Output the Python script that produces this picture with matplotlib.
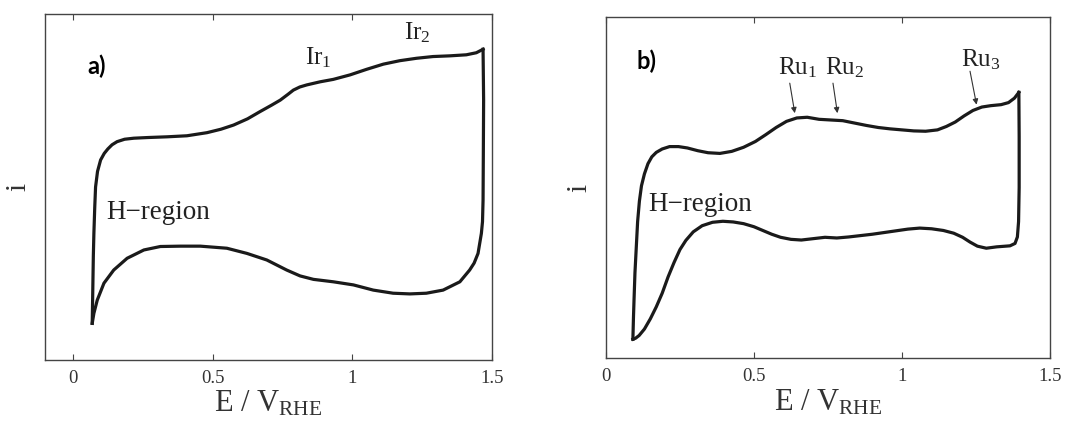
import matplotlib
matplotlib.use("Agg")
import matplotlib.pyplot as plt

plt.rcParams['font.family'] = ['Liberation Serif', 'DejaVu Serif']
plt.rcParams['mathtext.fontset'] = 'custom'
plt.rcParams['mathtext.rm'] = 'Liberation Serif'
plt.rcParams['mathtext.it'] = 'Liberation Serif:italic'

# a) Ir - forward (anodic) and backward (cathodic) scans, current in arb. units
E_a_fwd = [0.069, 0.071, 0.073, 0.075, 0.078, 0.081, 0.088, 0.099, 0.112, 0.125,
           0.140, 0.158, 0.185, 0.218, 0.270, 0.337, 0.408, 0.480, 0.530, 0.575,
           0.625, 0.670, 0.710, 0.742, 0.770, 0.789, 0.812, 0.837, 0.885, 0.932,
           0.992, 1.051, 1.111, 1.170, 1.230, 1.289, 1.349, 1.408, 1.444, 1.468]
i_a_fwd = [10.6, 20.0, 30.0, 36.6, 44.0, 50.0, 54.5, 57.8, 59.7, 61.0,
           62.2, 63.1, 63.8, 64.1, 64.3, 64.5, 64.8, 65.7, 66.7, 67.9,
           69.7, 71.8, 73.6, 75.1, 76.8, 78.0, 78.9, 79.5, 80.4, 81.1,
           82.4, 84.0, 85.5, 86.5, 87.2, 87.7, 87.9, 88.2, 88.8, 89.8]
E_a_rev = [1.468, 1.470, 1.469, 1.468, 1.466, 1.462, 1.450, 1.436, 1.420, 1.385,
           1.325, 1.265, 1.206, 1.146, 1.075, 1.004, 0.932, 0.861, 0.813, 0.765,
           0.694, 0.623, 0.551, 0.456, 0.385, 0.313, 0.254, 0.194, 0.146, 0.111,
           0.087, 0.075, 0.069]
i_a_rev = [89.8, 75.1, 60.0, 46.2, 40.0, 36.6, 30.8, 28.0, 26.0, 22.6,
           20.2, 19.3, 19.1, 19.3, 20.2, 21.7, 22.6, 23.3, 24.3, 26.0,
           28.9, 30.8, 32.3, 32.9, 32.9, 32.8, 31.8, 29.4, 26.0, 22.2,
           17.3, 13.5, 10.6]

# b) Ru
E_b_fwd = [0.091, 0.093, 0.095, 0.098, 0.102, 0.107, 0.113, 0.120, 0.130, 0.142,
           0.155, 0.170, 0.190, 0.215, 0.245, 0.275, 0.310, 0.345, 0.385, 0.425,
           0.465, 0.505, 0.540, 0.575, 0.610, 0.645, 0.680, 0.720, 0.760, 0.800,
           0.840, 0.880, 0.920, 0.960, 1.000, 1.040, 1.080, 1.120, 1.150, 1.180,
           1.210, 1.240, 1.270, 1.300, 1.335, 1.360, 1.380, 1.395]
i_b_fwd = [5.5, 12.0, 17.4, 25.0, 31.7, 40.0, 46.0, 50.5, 54.0, 57.0,
           59.0, 60.3, 61.3, 62.0, 62.0, 61.6, 60.8, 60.2, 60.0, 60.6,
           61.8, 63.5, 65.5, 67.6, 69.4, 70.4, 70.6, 70.0, 69.8, 69.6,
           68.9, 68.2, 67.6, 67.2, 66.9, 66.6, 66.5, 66.9, 67.9, 69.2,
           71.0, 72.6, 73.6, 74.0, 74.3, 74.9, 76.2, 77.9]
E_b_rev = [1.395, 1.396, 1.396, 1.394, 1.390, 1.382, 1.365, 1.320, 1.285, 1.255,
           1.230, 1.205, 1.175, 1.140, 1.100, 1.060, 1.020, 0.980, 0.940, 0.900,
           0.860, 0.820, 0.780, 0.740, 0.700, 0.660, 0.625, 0.590, 0.560, 0.530,
           0.500, 0.465, 0.430, 0.395, 0.360, 0.325, 0.295, 0.270, 0.250, 0.230,
           0.210, 0.190, 0.170, 0.150, 0.130, 0.112, 0.100, 0.091]
i_b_rev = [77.9, 65.0, 50.0, 40.0, 35.5, 33.6, 32.9, 32.6, 32.2, 32.8,
           34.0, 35.4, 36.6, 37.4, 37.9, 38.1, 37.8, 37.3, 36.8, 36.3,
           35.9, 35.5, 35.2, 35.4, 35.0, 34.6, 34.8, 35.4, 36.3, 37.4,
           38.5, 39.4, 39.9, 40.1, 39.8, 38.8, 37.0, 34.5, 31.8, 28.0,
           23.8, 19.0, 15.0, 11.5, 8.5, 6.6, 5.8, 5.5]

xticks = [0, 0.5, 1, 1.5]
xticklabels = ['0', '0.5', '1', '1.5']

# peak labels: (text, x, y) and arrows (tail, tip)
ir_labels = [(r'Ir$_1$', 0.83, 85.5), (r'Ir$_2$', 1.185, 92.7)]
ru_labels = [(r'Ru$_1$', 0.582, 83.1), (r'Ru$_2$', 0.739, 83.1), (r'Ru$_3$', 1.201, 85.5)]
ru_arrows = [((0.621, 80.6), (0.638, 71.8)),
             ((0.767, 80.6), (0.782, 71.8)),
             ((1.230, 84.1), (1.252, 74.3))]

fig = plt.figure(figsize=(10.74, 4.21), dpi=100)
ax_a = fig.add_axes([0.0419, 0.1449, 0.4162, 0.8219])
ax_b = fig.add_axes([0.5642, 0.1496, 0.4134, 0.8100])


def style_axis(ax, xlim):
    ax.set_xlim(*xlim)
    ax.set_ylim(0, 100)
    ax.set_xticks(xticks)
    ax.set_xticklabels(xticklabels)
    ax.set_yticks([])
    ax.tick_params(axis='x', direction='in', top=True, length=4, width=0.8,
                   color='#444444', labelsize=13.5, labelcolor='#333333', pad=7)
    for s in ax.spines.values():
        s.set_color('#444444')
        s.set_linewidth(1.0)
    ax.set_xlabel(r'E / V$_{\mathrm{RHE}}$', fontsize=22, color='#333333', labelpad=2)
    ax.set_ylabel('i', fontsize=21, color='#333333', labelpad=10)


# panel a
ax_a.plot(E_a_fwd, i_a_fwd, color='#1a1a1a', lw=2.3, solid_joinstyle='round')
ax_a.plot(E_a_rev, i_a_rev, color='#1a1a1a', lw=2.3, solid_joinstyle='round')
style_axis(ax_a, (-0.1, 1.5))
for txt, x, y in ir_labels:
    ax_a.text(x, y, txt, fontsize=18, color='#222222', va='baseline')
ax_a.text(0.120, 40.7, 'H\u2212region', fontsize=19.5, color='#222222', va='baseline')
ax_a.text(0.095, 0.848, 'a)', transform=ax_a.transAxes, fontsize=17,
          fontweight='bold', family=['Lato', 'DejaVu Sans'], va='center')

# panel b
ax_b.plot(E_b_fwd, i_b_fwd, color='#1a1a1a', lw=2.3, solid_joinstyle='round')
ax_b.plot(E_b_rev, i_b_rev, color='#1a1a1a', lw=2.3, solid_joinstyle='round')
style_axis(ax_b, (0, 1.5))
for txt, x, y in ru_labels:
    ax_b.text(x, y, txt, fontsize=18, color='#222222', va='baseline')
for tail, tip in ru_arrows:
    ax_b.annotate('', xy=tip, xytext=tail,
                  arrowprops=dict(arrowstyle='-|>', color='#333333', lw=0.8,
                                  mutation_scale=8, shrinkA=0, shrinkB=0))
ax_b.text(0.142, 43.0, 'H\u2212region', fontsize=19.5, color='#222222', va='baseline')
ax_b.text(0.068, 0.870, 'b)', transform=ax_b.transAxes, fontsize=17,
          fontweight='bold', family=['Lato', 'DejaVu Sans'], va='center')

fig.savefig('out.png', dpi=100)
